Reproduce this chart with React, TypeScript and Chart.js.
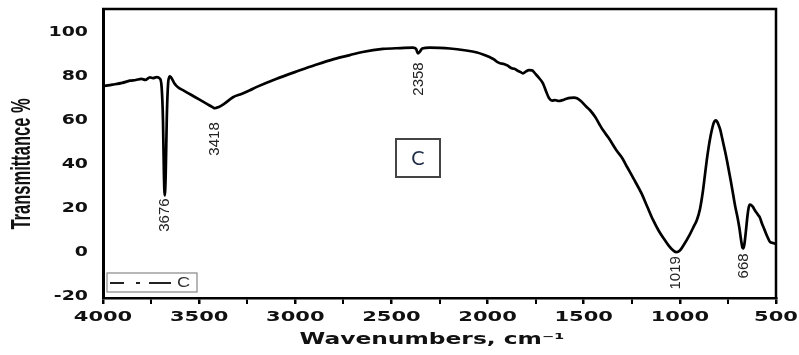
import React, { useEffect, useRef } from 'react';
import { Chart, registerables } from 'chart.js';

Chart.register(...registerables);

// ---------------- data ----------------
const wavenumbers = [
  4000, 3950, 3900, 3860, 3830, 3800, 3780, 3756, 3740, 3720, 3705, 3695, 3688, 3683, 3679, 3674, 3668, 3660, 3652, 3644,
  3630, 3610, 3580, 3540, 3500, 3460, 3430, 3418, 3400, 3370, 3324, 3280, 3236, 3200, 3100, 2976, 2900, 2800, 2716, 2650,
  2544, 2450, 2388, 2372, 2362, 2352, 2340, 2300, 2250, 2196, 2120, 2055, 2020, 1987, 1965, 1950, 1935, 1915, 1895, 1875,
  1860, 1847, 1830, 1816, 1800, 1785, 1769, 1750, 1730, 1712, 1695, 1680, 1665, 1650, 1630, 1610, 1590, 1570, 1550, 1535,
  1515, 1490, 1467, 1440, 1420, 1400, 1370, 1330, 1300, 1275, 1240, 1200, 1170, 1140, 1110, 1080, 1060, 1040, 1019, 1000,
  980, 950, 930, 911, 895, 880, 870, 860, 850, 840, 830, 824, 818, 812, 806, 800, 790, 780, 770, 760,
  750, 736, 724, 712, 700, 690, 682, 675, 670, 665, 660, 654, 648, 642, 636, 630, 620, 610, 600, 590,
  584, 572, 560, 546, 532, 520, 510, 500,
];
const transmittance = [
  75.5, 76.2, 77, 78, 78.3, 78.8, 78.4, 79.5, 79.2, 79.6, 79, 75, 60, 35, 26, 35, 62, 78, 80, 79.2,
  77, 75, 73.5, 71.5, 69.5, 67.5, 66, 65.5, 66, 67.5, 70.5, 72, 73.7, 75.2, 78.8, 82.7, 85, 87.8, 89.6, 91,
  92.4, 92.8, 93, 92.4, 90.4, 91.2, 92.6, 93, 92.9, 92.6, 91.8, 90.8, 89.8, 88.6, 87.6, 86.5, 85.9, 85.6, 84.8, 83.6,
  83.4, 82.7, 82, 81.3, 82.2, 82.8, 82.7, 81, 79, 76.8, 73, 70, 69, 69.2, 68.8, 69.2, 69.8, 70.2, 70.3, 70,
  68.8, 66.5, 64.6, 61.5, 58.5, 55.6, 52, 46.5, 43, 39, 33.5, 27, 21, 15, 10, 6, 3.5, 1.5, 0.3, 1,
  3.5, 8, 11.5, 15, 20, 28, 35, 42, 48, 53, 57, 58.8, 59.8, 60, 59.4, 58.3, 55.8, 52, 48, 44,
  39.5, 33, 27, 21, 16, 11, 6, 2.5, 2, 3.5, 7, 12, 17, 20.5, 21.8, 21.7, 20.8, 19.3, 18, 16.8,
  16, 13, 10.5, 7.5, 5, 4.5, 4.3, 4,
];
const xTickLabels = [4000, 3500, 3000, 2500, 2000, 1500, 1000, 500];
const yTickLabels = [-20, 0, 20, 40, 60, 80, 100];
const peakPositions = [3676, 3418, 2358, 1019, 668];
const peakLabels = ['3676', '3418', '2358', '1019', '668'];
const peakValues = [26, 65.5, 90.4, 0.3, 2];
const seriesName = 'C';
const boxText = 'C';
const xTitle = 'Wavenumbers, cm\u207B\u00B9';
const yTitle = 'Transmittance %';

// ---------------- styling ----------------
const FONT = '"Liberation Sans", Arial, Helvetica, sans-serif';
const HEAVY = '"DejaVu Sans", "Liberation Sans", Arial, sans-serif';
const peakLabelGaps = [3, 14, 9, 4, 5];

function stretchedText(
  ctx: CanvasRenderingContext2D,
  text: string,
  x: number,
  y: number,
  sx: number,
  font: string,
  align: CanvasTextAlign,
  baseline: CanvasTextBaseline,
  rotate = 0,
) {
  ctx.save();
  ctx.translate(x, y);
  ctx.scale(sx, 1);
  if (rotate) ctx.rotate(rotate);
  ctx.font = font;
  ctx.textAlign = align;
  ctx.textBaseline = baseline;
  ctx.fillText(text, 0, 0);
  ctx.restore();
}

const decorPlugin = {
  id: 'decor',
  afterDraw(chart: any) {
    const { ctx, chartArea: a } = chart;
    const xs = chart.scales.x;
    const ys = chart.scales.y;
    ctx.save();

    // top and right frame
    ctx.strokeStyle = '#000';
    ctx.lineWidth = 2.5;
    ctx.beginPath();
    ctx.moveTo(a.left - 1, a.top);
    ctx.lineTo(a.right, a.top);
    ctx.lineTo(a.right, a.bottom + 1);
    ctx.stroke();

    // tick labels
    ctx.fillStyle = '#111';
    yTickLabels.forEach((v) => {
      stretchedText(ctx, String(v), 88, ys.getPixelForValue(v), 1.4, `bold 13.5px ${HEAVY}`, 'right', 'middle');
    });
    xTickLabels.forEach((v) => {
      stretchedText(ctx, String(v), xs.getPixelForValue(v), 317, 1.5, `bold 14px ${HEAVY}`, 'center', 'middle');
    });

    // axis titles
    ctx.font = `bold 15px ${HEAVY}`;
    const xw = ctx.measureText(xTitle).width;
    stretchedText(ctx, xTitle, 432, 340, 265 / xw, `bold 15px ${HEAVY}`, 'center', 'middle');
    stretchedText(ctx, yTitle, 22, 164, 1.7, `bold 16.5px ${FONT}`, 'center', 'middle', -Math.PI / 2);

    // peak annotations
    ctx.fillStyle = '#222';
    peakPositions.forEach((p, i) => {
      const px = xs.getPixelForValue(p);
      const py = ys.getPixelForValue(peakValues[i]) + peakLabelGaps[i];
      ctx.save();
      ctx.translate(px, py);
      ctx.rotate(-Math.PI / 2);
      ctx.font = `15px ${FONT}`;
      ctx.textAlign = 'right';
      ctx.textBaseline = 'middle';
      ctx.fillText(peakLabels[i], 0, 0);
      ctx.restore();
    });

    // centre box "C"
    ctx.fillStyle = '#fff';
    ctx.fillRect(396, 139, 44, 38);
    ctx.strokeStyle = '#444';
    ctx.lineWidth = 2;
    ctx.strokeRect(396, 139, 44, 38);
    ctx.fillStyle = '#1f2d48';
    ctx.font = `20px Lato, "Open Sans", ${FONT}`;
    ctx.textAlign = 'center';
    ctx.textBaseline = 'middle';
    ctx.fillText(boxText, 418, 159);

    // legend
    ctx.fillStyle = '#fff';
    ctx.fillRect(107, 273, 90, 19);
    ctx.strokeStyle = '#888';
    ctx.lineWidth = 1.2;
    ctx.strokeRect(107, 273, 90, 19);
    ctx.strokeStyle = '#222';
    ctx.lineWidth = 2;
    ctx.beginPath();
    ctx.moveTo(110, 283); ctx.lineTo(124, 283);
    ctx.moveTo(136, 283); ctx.lineTo(140, 283);
    ctx.moveTo(149, 283); ctx.lineTo(171, 283);
    ctx.stroke();
    ctx.fillStyle = '#333';
    stretchedText(ctx, seriesName, 177, 283, 1.3, `14px ${FONT}`, 'left', 'middle');

    ctx.restore();
  },
};

export default function App() {
  const ref = useRef<HTMLCanvasElement>(null);

  useEffect(() => {
    const points = wavenumbers.map((w, i) => ({ x: w, y: transmittance[i] }));
    const chart = new Chart(ref.current as HTMLCanvasElement, {
      type: 'line',
      data: {
        datasets: [
          {
            label: seriesName,
            data: points,
            borderColor: '#000',
            borderWidth: 2.7,
            pointRadius: 0,
            cubicInterpolationMode: 'monotone',
            fill: false,
          },
        ],
      },
      options: {
        responsive: false,
        animation: false,
        devicePixelRatio: 1,
        layout: { padding: { left: 0, right: 23, top: 9, bottom: 0 } },
        plugins: { legend: { display: false }, tooltip: { enabled: false } },
        scales: {
          x: {
            type: 'linear',
            reverse: true,
            min: 500,
            max: 4000,
            afterFit: (s: any) => {
              s.height = 57;
            },
            ticks: { display: false, stepSize: 250 },
            grid: {
              display: true,
              drawOnChartArea: false,
              drawTicks: true,
              tickLength: 6,
              color: '#000',
              lineWidth: (c: any) => (c.tick && c.tick.value % 500 === 0 ? 2.5 : 2),
            },
            border: { display: true, color: '#000', width: 2.5 },
            title: { display: false },
          },
          y: {
            type: 'linear',
            min: -20.5,
            max: 110.5,
            afterFit: (s: any) => {
              s.width = 103;
            },
            ticks: { display: false, stepSize: 20 },
            grid: { display: false },
            border: { display: true, color: '#000', width: 3 },
            title: { display: false },
          },
        },
      },
      plugins: [decorPlugin],
    } as any);
    return () => chart.destroy();
  }, []);

  return (
    <div style={{ position: 'absolute', left: 0, top: 0, width: 799, height: 355, background: '#fff' }}>
      <canvas ref={ref} width={799} height={355} style={{ display: 'block' }} />
    </div>
  );
}
